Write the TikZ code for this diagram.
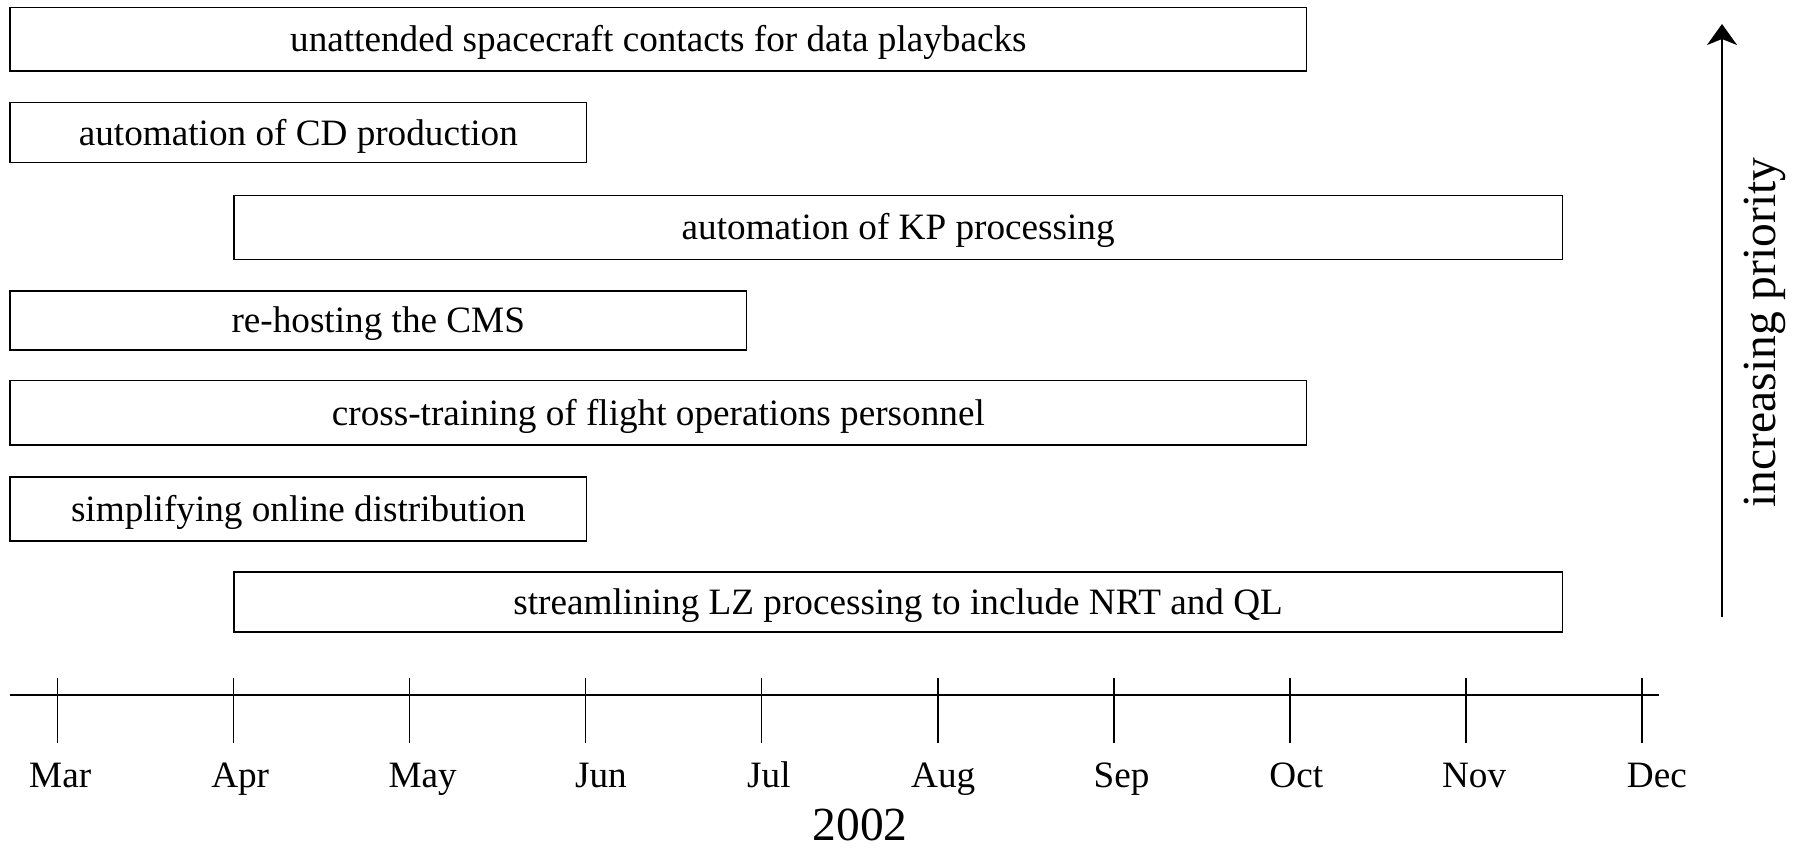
\documentclass[tikz,border=0pt]{standalone}
\usepackage{fontspec}
\setmainfont{Liberation Serif}
\usetikzlibrary{arrows.meta}
\begin{document}
\begin{tikzpicture}[x=0.5pt,y=-0.5pt,
  bar/.style={draw, line width=0.6pt, inner sep=0pt, outer sep=0pt, align=center,
    font=\fontsize{18.6pt}{22pt}\selectfont, text height=12.3pt, text depth=0pt},
  month/.style={font=\fontsize{18.6pt}{22pt}\selectfont, anchor=base, inner sep=0pt},
  big/.style={font=\fontsize{23.75pt}{28pt}\selectfont, anchor=base, inner sep=0pt},
  axisline/.style={line width=1pt},
  tickline/.style={line width=0.85pt},
  prioarrow/.style={line width=1pt, -{Stealth[length=10.5pt,width=15pt,inset=3pt]}}]
\useasboundingbox (0,0) rectangle (1798,848);

% task bars, highest priority on top
\node[bar, minimum width=648.35pt, minimum height=31.85pt] (b1) at (658.35,39.15) {unattended spacecraft contacts for data playbacks};
\node[bar, minimum width=288.35pt, minimum height=30pt]    (b2) at (298.35,132.7) {automation of CD production};
\node[bar, minimum width=664.15pt, minimum height=32pt]    (b3) at (898.15,227.3) {automation of KP processing};
\node[bar, minimum width=368.25pt, minimum height=29.5pt]  (b4) at (378.25,320.5) {re-hosting the CMS};
\node[bar, minimum width=648.35pt, minimum height=32.15pt] (b5) at (658.35,412.85) {cross-training of flight operations personnel};
\node[bar, minimum width=288.35pt, minimum height=32pt]    (b6) at (298.35,509) {simplifying online distribution};
\node[bar, minimum width=664.15pt, minimum height=30pt]    (b7) at (898.15,602) {streamlining LZ processing to include NRT and QL};

% time axis with monthly ticks
\draw[axisline] (10,695) -- (1658.7,695);
\foreach \i in {0,...,9}
  \draw[tickline] ({57.4+176.05*\i},678) -- ++(0,65);

\node[month] (mMar) at (60.2,787) {Mar};
\node[month] (mApr) at (240.2,787) {Apr};
\node[month] (mMay) at (422.6,787) {May};
\node[month] (mJun) at (600.9,787) {Jun};
\node[month] (mJul) at (768.9,787) {Jul};
\node[month] (mAug) at (943.2,787) {Aug};
\node[month] (mSep) at (1121.5,787) {Sep};
\node[month] (mOct) at (1296.3,787) {Oct};
\node[month] (mNov) at (1474.1,787) {Nov};
\node[month] (mDec) at (1656.9,787) {Dec};

\node[big] (year) at (860,840) {2002};

% priority direction
\coordinate (plow) at (1722,616.7);
\coordinate (phigh) at (1722,24);
\draw[prioarrow] (plow) -- (phigh);
\node[big, rotate=90] (prio) at (1775,332.6) {increasing priority};
\end{tikzpicture}
\end{document}
